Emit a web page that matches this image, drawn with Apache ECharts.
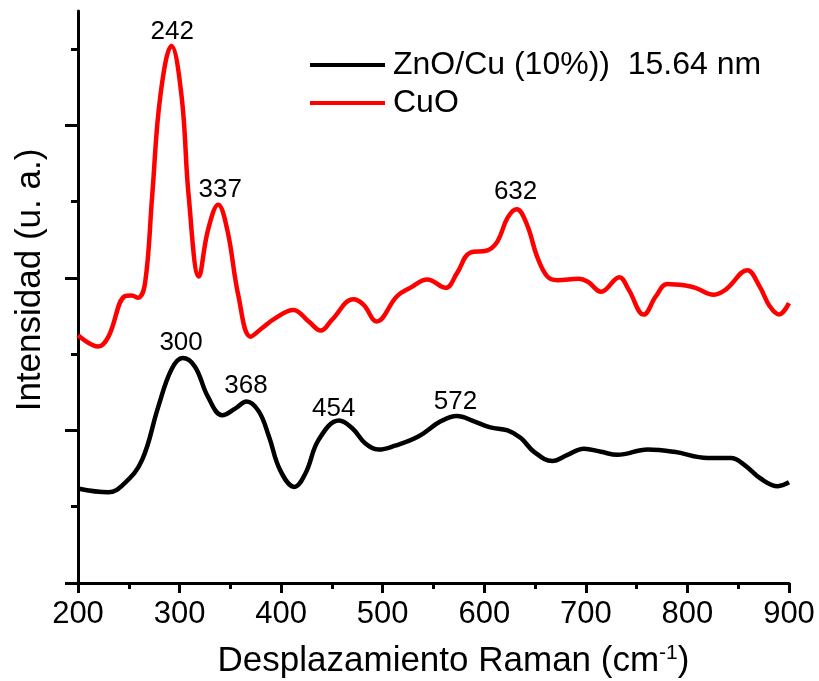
<!DOCTYPE html>
<html>
<head>
<meta charset="utf-8">
<script src="https://cdn.jsdelivr.net/npm/echarts@6/dist/echarts.min.js"></script>
<style>
html,body{margin:0;padding:0;background:#fff;}
#chart{width:819px;height:681px;}
</style>
</head>
<body>
<div id="chart"></div>
<script>
// Raman shift (cm-1) and intensity (a.u.)
const cuoX = [200,220,230,246,253,259,266,273,281,292,302,309,319,328,338,347,358,370,381,394,412,427,439,450,471,481,494,514,527,544,562,573,586,603,613,623,632,642,652,662,672,693,702,715,733,742,757,769,780,798,808,826,838,859,871,881,890,900];
const cuoY = [3.25,3.10,3.23,3.76,3.77,3.74,3.93,5.07,6.38,7.04,6.38,5.07,4.02,4.63,4.96,4.63,3.76,3.23,3.34,3.47,3.58,3.43,3.31,3.45,3.72,3.65,3.43,3.76,3.87,3.98,3.87,4.06,4.33,4.36,4.48,4.79,4.90,4.70,4.28,4.02,3.97,3.99,3.95,3.82,4.01,3.85,3.52,3.76,3.92,3.90,3.87,3.78,3.85,4.10,3.89,3.63,3.52,3.67];
const znoX = [200,230,246,263,279,292,303,315,328,342,355,366,378,388,399,413,424,437,457,470,483,496,512,535,557,573,590,606,623,636,649,667,682,698,715,731,761,787,820,843,856,872,889,900];
const znoY = [1.24,1.19,1.31,1.61,2.31,2.80,2.95,2.84,2.44,2.20,2.29,2.38,2.25,1.92,1.48,1.26,1.44,1.88,2.13,2.03,1.83,1.75,1.80,1.92,2.12,2.19,2.12,2.04,2.00,1.90,1.72,1.60,1.68,1.76,1.72,1.68,1.75,1.72,1.64,1.64,1.55,1.37,1.27,1.32];

// Peak annotations: text, x position, y position (data units)
const peakText = ['242','337','632','300','368','454','572'];
const peakX = [292.7,340,630.8,301.5,365.3,451.7,571.7];
const peakY = [7.23,5.16,5.13,3.15,2.59,2.29,2.38];

const seriesNames = ['ZnO/Cu (10%))  15.64 nm','CuO'];
const xTicksMin = 200, xTicksMax = 900, xInterval = 100;
const yMajorTicks = [0,2,4,6];
const yMinorTicks = [1,3,5,7];

const FONT = 'Liberation Sans, Arial, Helvetica, sans-serif';
const zip = (a,b)=>a.map((v,i)=>[v,b[i]]);

const chart = echarts.init(document.getElementById('chart'), null, {renderer:'canvas'});
const axisLine = {show:true, lineStyle:{color:'#000', width:3}};
chart.setOption({
  animation:false,
  backgroundColor:'#fff',
  grid:{left:78, right:30, top:11, bottom:98, containLabel:false, outerBoundsMode:'none'},
  legend:{
    orient:'vertical', left:310, top:49, itemGap:6, padding:0,
    icon:'rect', itemWidth:75, itemHeight:4,
    data:seriesNames,
    textStyle:{fontFamily:FONT, fontSize:32, color:'#000', padding:[0,0,0,3]}
  },
  xAxis:{
    type:'value', min:xTicksMin, max:xTicksMax, interval:xInterval,
    axisLine:axisLine,
    axisTick:{show:true, length:10, lineStyle:{color:'#000', width:3}},
    minorTick:{show:true, splitNumber:2, length:6, lineStyle:{color:'#000', width:3}},
    splitLine:{show:false},
    axisLabel:{fontFamily:FONT, fontSize:31, color:'#000', margin:16},
    name:'Desplazamiento Raman (cm{sup|-1})',
    nameLocation:'middle', nameGap:60,
    nameTextStyle:{fontFamily:FONT, fontSize:35, color:'#000', padding:[0,0,0,40],
      rich:{sup:{fontFamily:FONT, fontSize:21, color:'#000', verticalAlign:'top', padding:[0,0,16,0]}}}
  },
  yAxis:[{
    type:'value', min:0, max:7.5,
    axisLine:axisLine,
    axisTick:{show:true, length:7, customValues:yMinorTicks, lineStyle:{color:'#000', width:3}},
    axisLabel:{show:false},
    splitLine:{show:false},
    name:'Intensidad (u. a.)', nameLocation:'middle', nameGap:30,
    nameTextStyle:{fontFamily:FONT, fontSize:35, color:'#000', padding:[0,0,0,34]}
  },{
    type:'value', min:0, max:7.5, position:'left',
    axisLine:{show:false},
    axisTick:{show:true, length:13, customValues:yMajorTicks, lineStyle:{color:'#000', width:3}},
    axisLabel:{show:false},
    splitLine:{show:false}
  }],
  series:[
    {name:seriesNames[0], type:'line', data:zip(znoX,znoY), smooth:0.4, showSymbol:false,
     lineStyle:{color:'#000', width:4.5}, itemStyle:{color:'#000'}, z:3},
    {name:seriesNames[1], type:'line', data:zip(cuoX,cuoY), smooth:0.4, showSymbol:false,
     lineStyle:{color:'#ff0000', width:4.5}, itemStyle:{color:'#ff0000'}, z:3},
    {name:'peaks', type:'scatter', symbolSize:1, itemStyle:{color:'rgba(0,0,0,0)', opacity:1},
     data:peakX.map((x,i)=>({value:[x,peakY[i]], name:peakText[i]})),
     label:{show:true, position:'inside', formatter:p=>p.name, opacity:1,
       fontFamily:FONT, fontSize:26, color:'#000'}, silent:true, z:4}
  ]
});
</script>
</body>
</html>
